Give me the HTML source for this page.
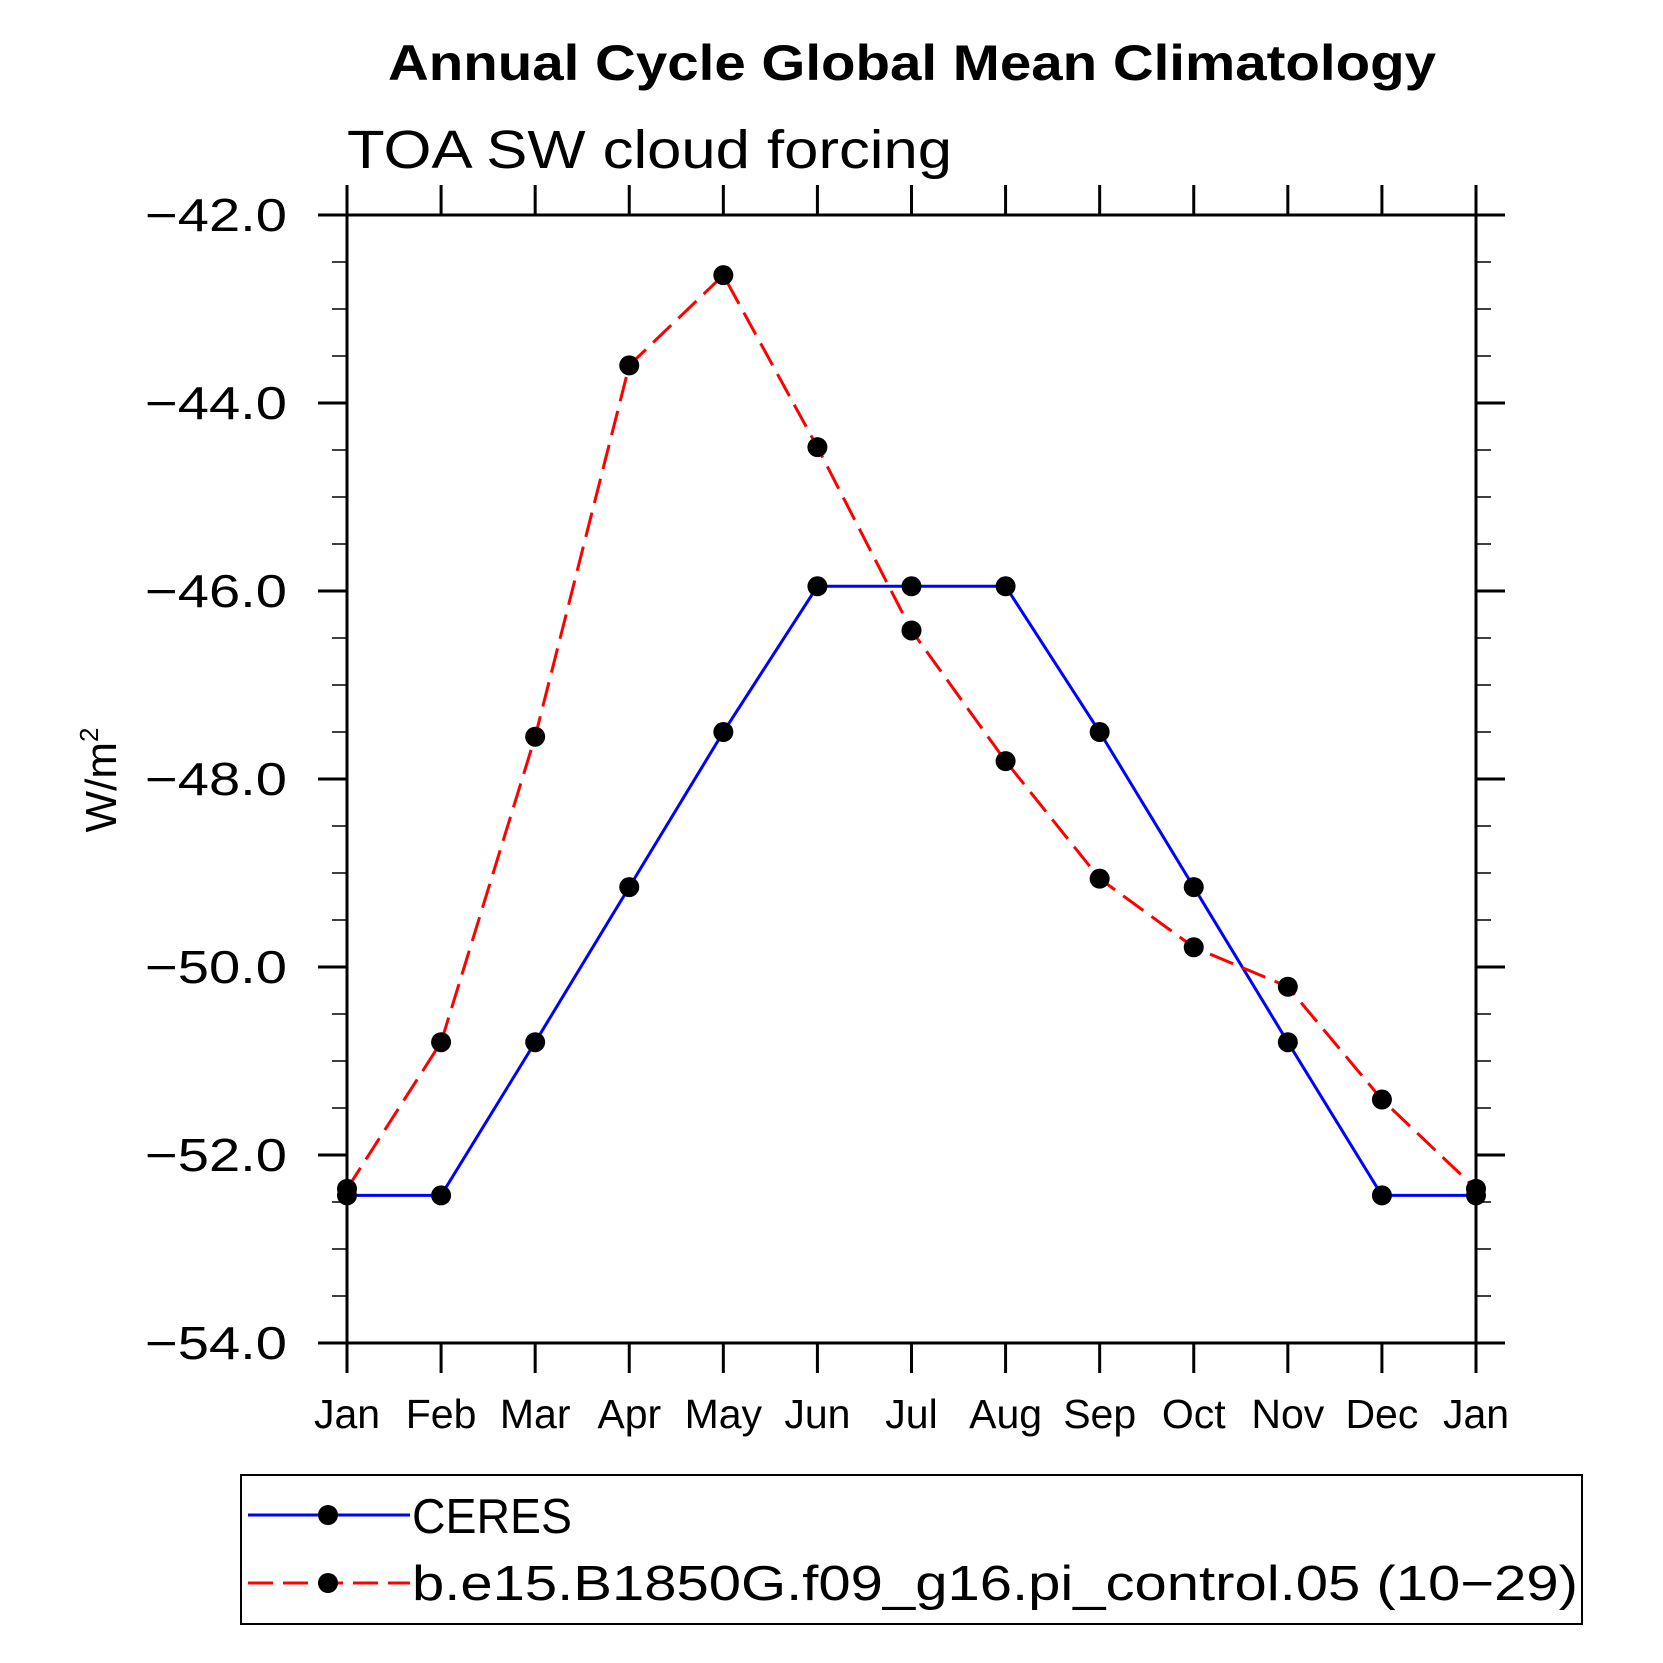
<!DOCTYPE html>
<html><head><meta charset="utf-8"><style>html,body{margin:0;padding:0;background:#fff}svg{display:block}</style></head>
<body>
<svg id="chart" width="1663" height="1663" viewBox="0 0 1663 1663" xmlns="http://www.w3.org/2000/svg" font-family="Liberation Sans, sans-serif">
<rect width="1663" height="1663" fill="#fff"/>
<text x="912" y="80" text-anchor="middle" font-weight="bold" font-size="50" textLength="1048" lengthAdjust="spacingAndGlyphs">Annual Cycle Global Mean Climatology</text>
<text x="347" y="168" font-size="54" textLength="605" lengthAdjust="spacingAndGlyphs">TOA SW cloud forcing</text>
<text transform="translate(116,780) rotate(-90)" text-anchor="middle" font-size="44">W/m<tspan font-size="26" dy="-18">2</tspan></text>
<g id="axes"></g>
<g id="series"></g>
<g>
<rect x="241" y="1475" width="1341" height="149" fill="none" stroke="#000" stroke-width="2"/>
<line x1="248" y1="1515" x2="410" y2="1515" stroke="#0000ff" stroke-width="3"/>
<circle cx="328" cy="1515" r="10"/>
<text x="412" y="1533" font-size="49" textLength="160" lengthAdjust="spacingAndGlyphs">CERES</text>
<line x1="248" y1="1583" x2="410" y2="1583" stroke="#ff0000" stroke-width="3" stroke-dasharray="25 10"/>
<circle cx="328" cy="1583" r="10"/>
<text x="412" y="1600" font-size="49" textLength="1166" lengthAdjust="spacingAndGlyphs">b.e15.B1850G.f09_g16.pi_control.05 (10−29)</text>
</g>
</svg>
<script>
const months = ["Jan","Feb","Mar","Apr","May","Jun","Jul","Aug","Sep","Oct","Nov","Dec","Jan"];
const ceres = [-52.43,-52.43,-50.80,-49.15,-47.50,-45.95,-45.95,-45.95,-47.50,-49.15,-50.80,-52.43,-52.43];
const model = [-52.36,-50.80,-47.55,-43.60,-42.64,-44.47,-46.42,-47.81,-49.06,-49.79,-50.21,-51.41,-52.36];
const yTicks = [-42,-44,-46,-48,-50,-52,-54];
const yTickLabels = ["−42.0","−44.0","−46.0","−48.0","−50.0","−52.0","−54.0"];

const L=347,R=1476,T=215,B=1343,yMax=-42,yMin=-54;
const NS="http://www.w3.org/2000/svg";
function xS(i){return L+(R-L)*i/(months.length-1);}
function yS(v){return T+(yMax-v)/(yMax-yMin)*(B-T);}
function mk(tag,attrs,parent){const e=document.createElementNS(NS,tag);for(const k in attrs)e.setAttribute(k,attrs[k]);parent.appendChild(e);return e;}
const ax=document.getElementById('axes');
const frame=mk('rect',{x:L,y:T,width:R-L,height:B-T,fill:'none',stroke:'#000','stroke-width':3},ax);


months.forEach((m,i)=>{
  const x=xS(i);
  const t1=mk('line',{x1:x,y1:B,x2:x,y2:B+30,stroke:'#000','stroke-width':3},ax);
  
  
  const t2=mk('line',{x1:x,y1:T,x2:x,y2:T-30,stroke:'#000','stroke-width':3},ax);
  
  
  const tx=mk('text',{x:x,y:1428,'text-anchor':'middle','font-size':41},ax);
  tx.textContent=m;
  
  
});
for(let v=yMax;v>=yMin-0.001;v-=0.5){
  const y=yS(v);const major=Math.abs(v-Math.round(v/2)*2)<0.01;
  const len=major?29:15;
  const a=mk('line',{x1:L-len,y1:y,x2:L,y2:y,stroke:'#000','stroke-width':major?3:1.5},ax);
  
  
  const b=mk('line',{x1:R,y1:y,x2:R+len,y2:y,stroke:'#000','stroke-width':major?3:1.5},ax);
  
  
}
yTicks.forEach((v,i)=>{
  const t=mk('text',{x:287,y:yS(v)+16,'text-anchor':'end','font-size':46,textLength:142,lengthAdjust:'spacingAndGlyphs'},ax);
  t.textContent=yTickLabels[i];
  
  
});
const sg=document.getElementById('series');
function draw(vals,color,dash,name){
  const pts=vals.map((v,i)=>xS(i)+','+yS(v)).join(' ');
  const pl=mk('polyline',{points:pts,fill:'none',stroke:color,'stroke-width':3},sg);
  if(dash)pl.setAttribute('stroke-dasharray',dash);
  
  
  vals.forEach((v,i)=>{
    const c=mk('circle',{cx:xS(i),cy:yS(v),r:10,fill:'#000'},sg);
    
    
  });
}
draw(ceres,'#0000ff',null,'ceres');
draw(model,'#ff0000','25 10','model');
</script>
</body></html>
